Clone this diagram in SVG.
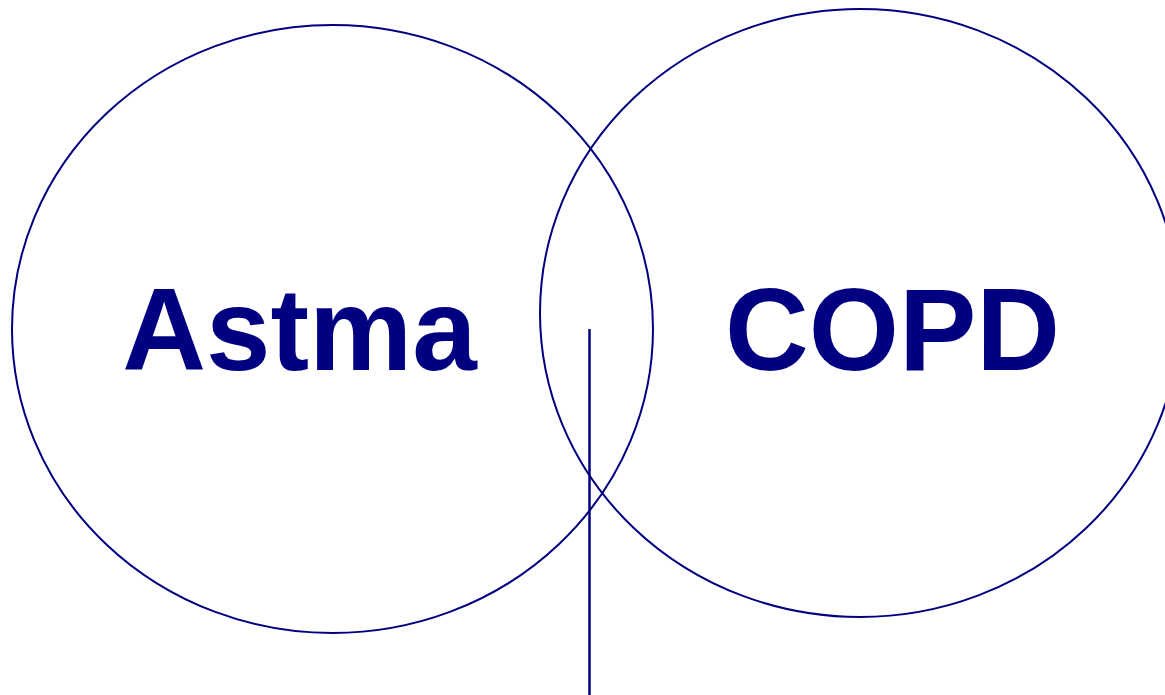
<svg xmlns="http://www.w3.org/2000/svg" width="1165" height="695" viewBox="0 0 1165 695">
<style>
.c{fill:none;stroke:#000080;stroke-width:2}
.t{font-family:"Liberation Sans",Arial,sans-serif;font-weight:bold;font-size:116px;fill:#000080;text-anchor:middle}
</style>
<rect width="1165" height="695" fill="#fff"/>
<g id="astma">
<ellipse class="c" cx="332.5" cy="329" rx="320.5" ry="304"/>
<text class="t" x="299.5" y="370">Astma</text>
</g>
<g id="copd">
<ellipse class="c" cx="860" cy="313" rx="320" ry="304"/>
<text class="t" x="892.5" y="370">COPD</text>
</g>
<g id="connectors">
<line x1="589.5" y1="329" x2="589.5" y2="695" stroke="#000080" stroke-width="2.5"/>
</g>
</svg>
